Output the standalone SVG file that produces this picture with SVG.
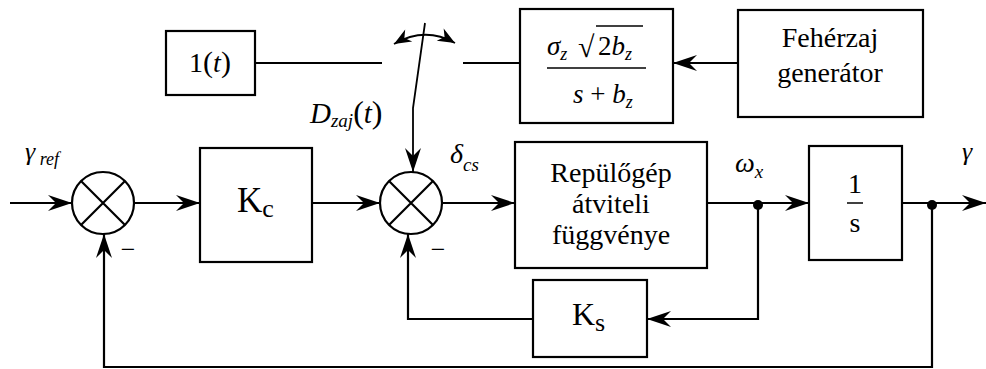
<svg xmlns="http://www.w3.org/2000/svg" width="986" height="369" viewBox="0 0 986 369">
<defs>
<marker id="ah" markerUnits="userSpaceOnUse" markerWidth="28" markerHeight="20" viewBox="-26 -10 28 20" refX="0" refY="0" orient="auto">
<path d="M0,0 L-24,-8 L-16,0 L-24,8 Z" fill="#000"/>
</marker>
<marker id="ahs" markerUnits="userSpaceOnUse" markerWidth="22" markerHeight="16" viewBox="-20 -8 22 16" refX="0" refY="0" orient="auto-start-reverse">
<path d="M0,0 L-17,-7 L-12,0 L-17,7 Z" fill="#000"/>
</marker>
</defs>
<style>
.box{fill:#fff;stroke:#000;stroke-width:2.2}
.ln{fill:none;stroke:#000;stroke-width:2.2}
.thin{fill:none;stroke:#000;stroke-width:1.8}
.t{font-family:'Liberation Serif','DejaVu Serif',serif;fill:#000}
.i{font-style:italic}
</style>
<rect width="986" height="369" fill="#fff"/>

<g id="connectors">
<path class="ln" d="M10,203 H72" marker-end="url(#ah)"/>
<path class="ln" d="M134,203 H200" marker-end="url(#ah)"/>
<path class="ln" d="M312,203 H380" marker-end="url(#ah)"/>
<path class="ln" d="M442,203 H515" marker-end="url(#ah)"/>
<path class="ln" d="M707,203 H809" marker-end="url(#ah)"/>
<path class="ln" d="M902,203 H986" marker-end="url(#ah)"/>
<path class="ln" d="M758,203 V319 H647" marker-end="url(#ah)"/>
<path class="ln" d="M533,319 H408 V234" marker-end="url(#ah)"/>
<path class="ln" d="M932,203 V367 H104 V234" marker-end="url(#ah)"/>
<path class="ln" d="M738,63 H673" marker-end="url(#ah)"/>
<path class="ln" d="M520,63 H463"/>
<path class="ln" d="M255,63 H382"/>
<path class="thin" d="M425,23 L413,108 V172" marker-end="url(#ah)"/>
<path class="thin" d="M394,44 Q425,26 455,43" marker-start="url(#ahs)" marker-end="url(#ahs)"/>
<circle cx="758" cy="205" r="5" fill="#000"/>
<circle cx="932" cy="205" r="5" fill="#000"/>
</g>

<g id="sum1">
<circle class="ln" cx="103" cy="203" r="31"/>
<path class="ln" d="M81,181 L125,225 M125,181 L81,225"/>
<text class="t" x="128" y="258" font-size="26" text-anchor="middle">−</text>
</g>
<g id="sum2">
<circle class="ln" cx="411" cy="203" r="31"/>
<path class="ln" d="M389,181 L433,225 M433,181 L389,225"/>
<text class="t" x="438" y="258" font-size="26" text-anchor="middle">−</text>
</g>

<g id="Kc">
<rect class="box" x="200" y="148" width="112" height="114"/>
<text class="t" x="237" y="212" font-size="35">K<tspan font-size="26" dy="5">c</tspan></text>
</g>

<g id="plane">
<rect class="box" x="515" y="142" width="192" height="126"/>
<text class="t" x="611" y="182" font-size="28" text-anchor="middle">Repülőgép</text>
<text class="t" x="611" y="213" font-size="28" text-anchor="middle">átviteli</text>
<text class="t" x="611" y="244" font-size="28" text-anchor="middle">függvénye</text>
</g>

<g id="integrator">
<rect class="box" x="809" y="146" width="93" height="114"/>
<text class="t" x="855" y="193" font-size="28" text-anchor="middle">1</text>
<line x1="847" y1="203" x2="863" y2="203" stroke="#000" stroke-width="1.5"/>
<text class="t" x="855" y="232" font-size="28" text-anchor="middle">s</text>
</g>

<g id="Ks">
<rect class="box" x="533" y="280" width="114" height="77"/>
<text class="t" x="572" y="325" font-size="32">K<tspan font-size="26" dy="6">s</tspan></text>
</g>

<g id="step">
<rect class="box" x="166" y="31" width="89" height="64"/>
<text class="t" x="210" y="72" font-size="28" text-anchor="middle">1<tspan font-size="30">(</tspan><tspan class="i">t</tspan><tspan font-size="30">)</tspan></text>
</g>

<g id="filter">
<rect class="box" x="520" y="9" width="153" height="114"/>
<text class="t i" x="547" y="55" font-size="27">σ<tspan font-size="18" dy="5">z</tspan></text>
<text class="t" x="578" y="57" font-size="30">√</text>
<line x1="596" y1="26" x2="643" y2="26" stroke="#000" stroke-width="1.4"/>
<text class="t" x="598" y="55" font-size="27">2<tspan class="i">b</tspan><tspan class="i" font-size="18" dy="5">z</tspan></text>
<line x1="547" y1="68" x2="646" y2="68" stroke="#000" stroke-width="1.6"/>
<text class="t" x="573" y="103" font-size="27"><tspan class="i">s</tspan> + <tspan class="i">b</tspan><tspan class="i" font-size="18" dy="5">z</tspan></text>
</g>

<g id="noise">
<rect class="box" x="738" y="10" width="185" height="107"/>
<text class="t" x="830" y="47" font-size="28" text-anchor="middle">Fehérzaj</text>
<text class="t" x="830" y="82" font-size="28" text-anchor="middle">generátor</text>
</g>

<g id="labels">
<text class="t i" x="25" y="160" font-size="26">γ<tspan font-size="18" dy="5"> ref</tspan></text>
<text class="t i" x="310" y="123" font-size="29">D<tspan font-size="19" dy="4">zaj</tspan><tspan font-size="32" dy="-4" font-style="normal">(</tspan>t<tspan font-size="32" font-style="normal">)</tspan></text>
<text class="t i" x="450" y="163" font-size="28">δ<tspan font-size="19" dy="8">cs</tspan></text>
<text class="t i" x="735" y="172" font-size="28">ω<tspan font-size="19" dy="6">x</tspan></text>
<text class="t i" x="962" y="160" font-size="26">γ</text>
</g>
</svg>
